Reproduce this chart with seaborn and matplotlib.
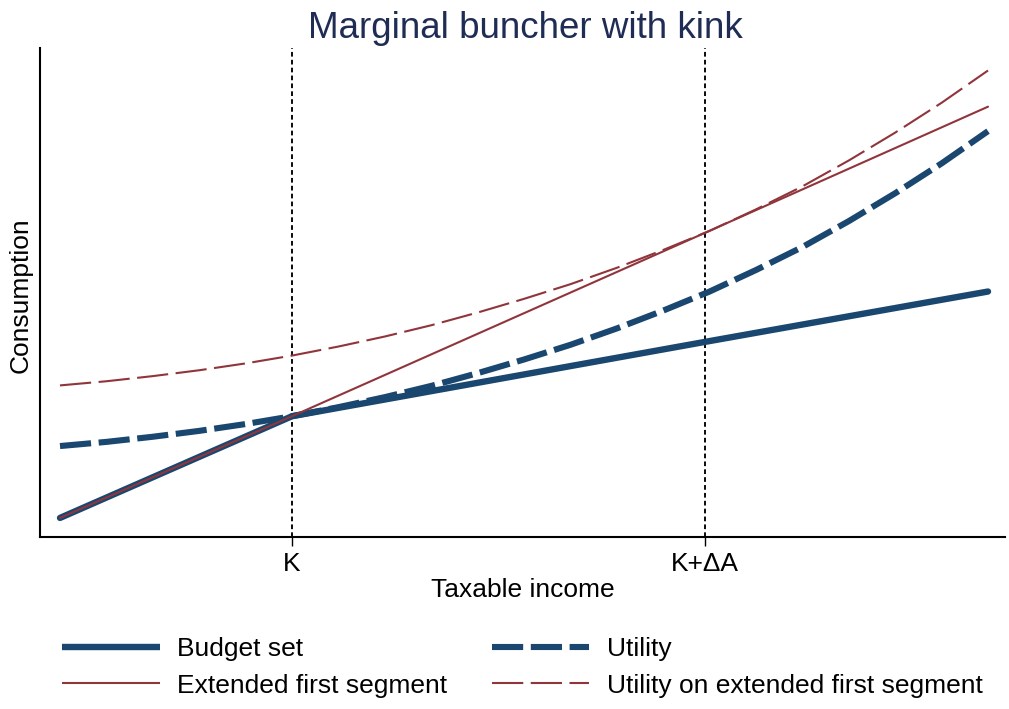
import matplotlib
matplotlib.use("Agg")
import matplotlib.pyplot as plt
import seaborn as sns

# Kink points on the income axis
K = 25.0
K_DA = 69.5

# Piecewise-linear budget set and the first segment extended past the kink
budget_x = [0, K, K_DA, 100]
budget_y = [3.9, 24.7, 39.9, 50.2]
ext_x = [0, K, K_DA, 100]
ext_y = [3.9, 24.7, 62.2, 88.0]

# Indifference curves
util_x = [0, 5, 10, 15, 20, 25, 30, 35, 40, 45, 50,
          55, 60, 65, 70, 75, 80, 85, 90, 95, 100]
util_y = [18.6, 19.45, 20.5, 21.7, 23.1, 24.7, 26.55, 28.6, 30.9, 33.5, 36.3,
          39.3, 42.65, 46.3, 50.2, 54.6, 59.3, 64.6, 70.3, 76.4, 83.0]
util_ext_y = [31.0, 31.85, 32.9, 34.1, 35.5, 37.1, 38.95, 41.0, 43.3, 45.9, 48.7,
              51.7, 55.05, 58.7, 62.6, 67.0, 71.7, 77.0, 82.7, 88.8, 95.4]

tick_pos = [K, K_DA]
tick_labels = ["K", "K+\u0394A"]

BLUE = "#1a476f"
RED = "#90353b"
TITLE = "#1f2d55"

sns.set_style("white")
plt.rcParams["font.family"] = ["Liberation Sans", "DejaVu Sans"]
plt.rcParams["text.color"] = "black"

fig = plt.figure(figsize=(10.09, 7.09), dpi=100)
ax = fig.add_axes([40 / 1009, 172 / 709, 965 / 1009, 489 / 709])

for xv in tick_pos:
    ax.axvline(xv, color="black", lw=1.35, linestyle=(0, (2.5, 1.7)), zorder=1)

sns.lineplot(x=budget_x, y=budget_y, ax=ax, color=BLUE, lw=4.6,
             solid_capstyle="round", label="Budget set", zorder=3)
sns.lineplot(x=util_x, y=util_y, ax=ax, color=BLUE, lw=4.4,
             linestyle=(0, (5.1, 1.25)), label="Utility", zorder=3)
sns.lineplot(x=ext_x, y=ext_y, ax=ax, color=RED, lw=1.5,
             label="Extended first segment", zorder=4)
sns.lineplot(x=util_x, y=util_ext_y, ax=ax, color=RED, lw=1.5,
             linestyle=(0, (15.0, 3.6)), label="Utility on extended first segment",
             zorder=4)

if ax.get_legend() is not None:
    ax.get_legend().remove()

ax.set_xlim(-2.155, 101.83)
ax.set_ylim(0, 100)

for side in ["top", "right"]:
    ax.spines[side].set_visible(False)
for side in ["left", "bottom"]:
    ax.spines[side].set_color("black")
    ax.spines[side].set_linewidth(1.5)

ax.set_xticks(tick_pos)
ax.set_xticklabels(tick_labels, fontsize=19)
ax.set_yticks([])
ax.tick_params(axis="x", length=6.5, width=1.0, pad=4, color="black",
               labelcolor="black", bottom=True)

ax.set_xlabel("Taxable income", fontsize=19, color="black")
ax.xaxis.set_label_coords(0.5, -0.108)
ax.xaxis.label.set_va("center")
ax.set_ylabel("Consumption", fontsize=19, color="black")
ax.yaxis.set_label_coords(-0.0197, 0.495)
ax.yaxis.label.set_va("center")

fig.text(525 / 1009, 1 - 29 / 709, "Marginal buncher with kink",
         fontsize=26.5, color=TITLE, ha="center", va="center")

handles, labels = ax.get_legend_handles_labels()
order = ["Budget set", "Extended first segment", "Utility",
         "Utility on extended first segment"]
hmap = dict(zip(labels, handles))
leg = fig.legend([hmap[o] for o in order], order, ncol=2, loc="upper left",
                 bbox_to_anchor=(62 / 1009, 1 - 637 / 709), frameon=False,
                 fontsize=19, handlelength=3.7, handletextpad=0.65,
                 columnspacing=1.7, labelspacing=0.48, borderpad=0,
                 borderaxespad=0, labelcolor="black")
for line in leg.get_lines():
    line.set_solid_capstyle("butt")

fig.savefig("out.png", dpi=100)
